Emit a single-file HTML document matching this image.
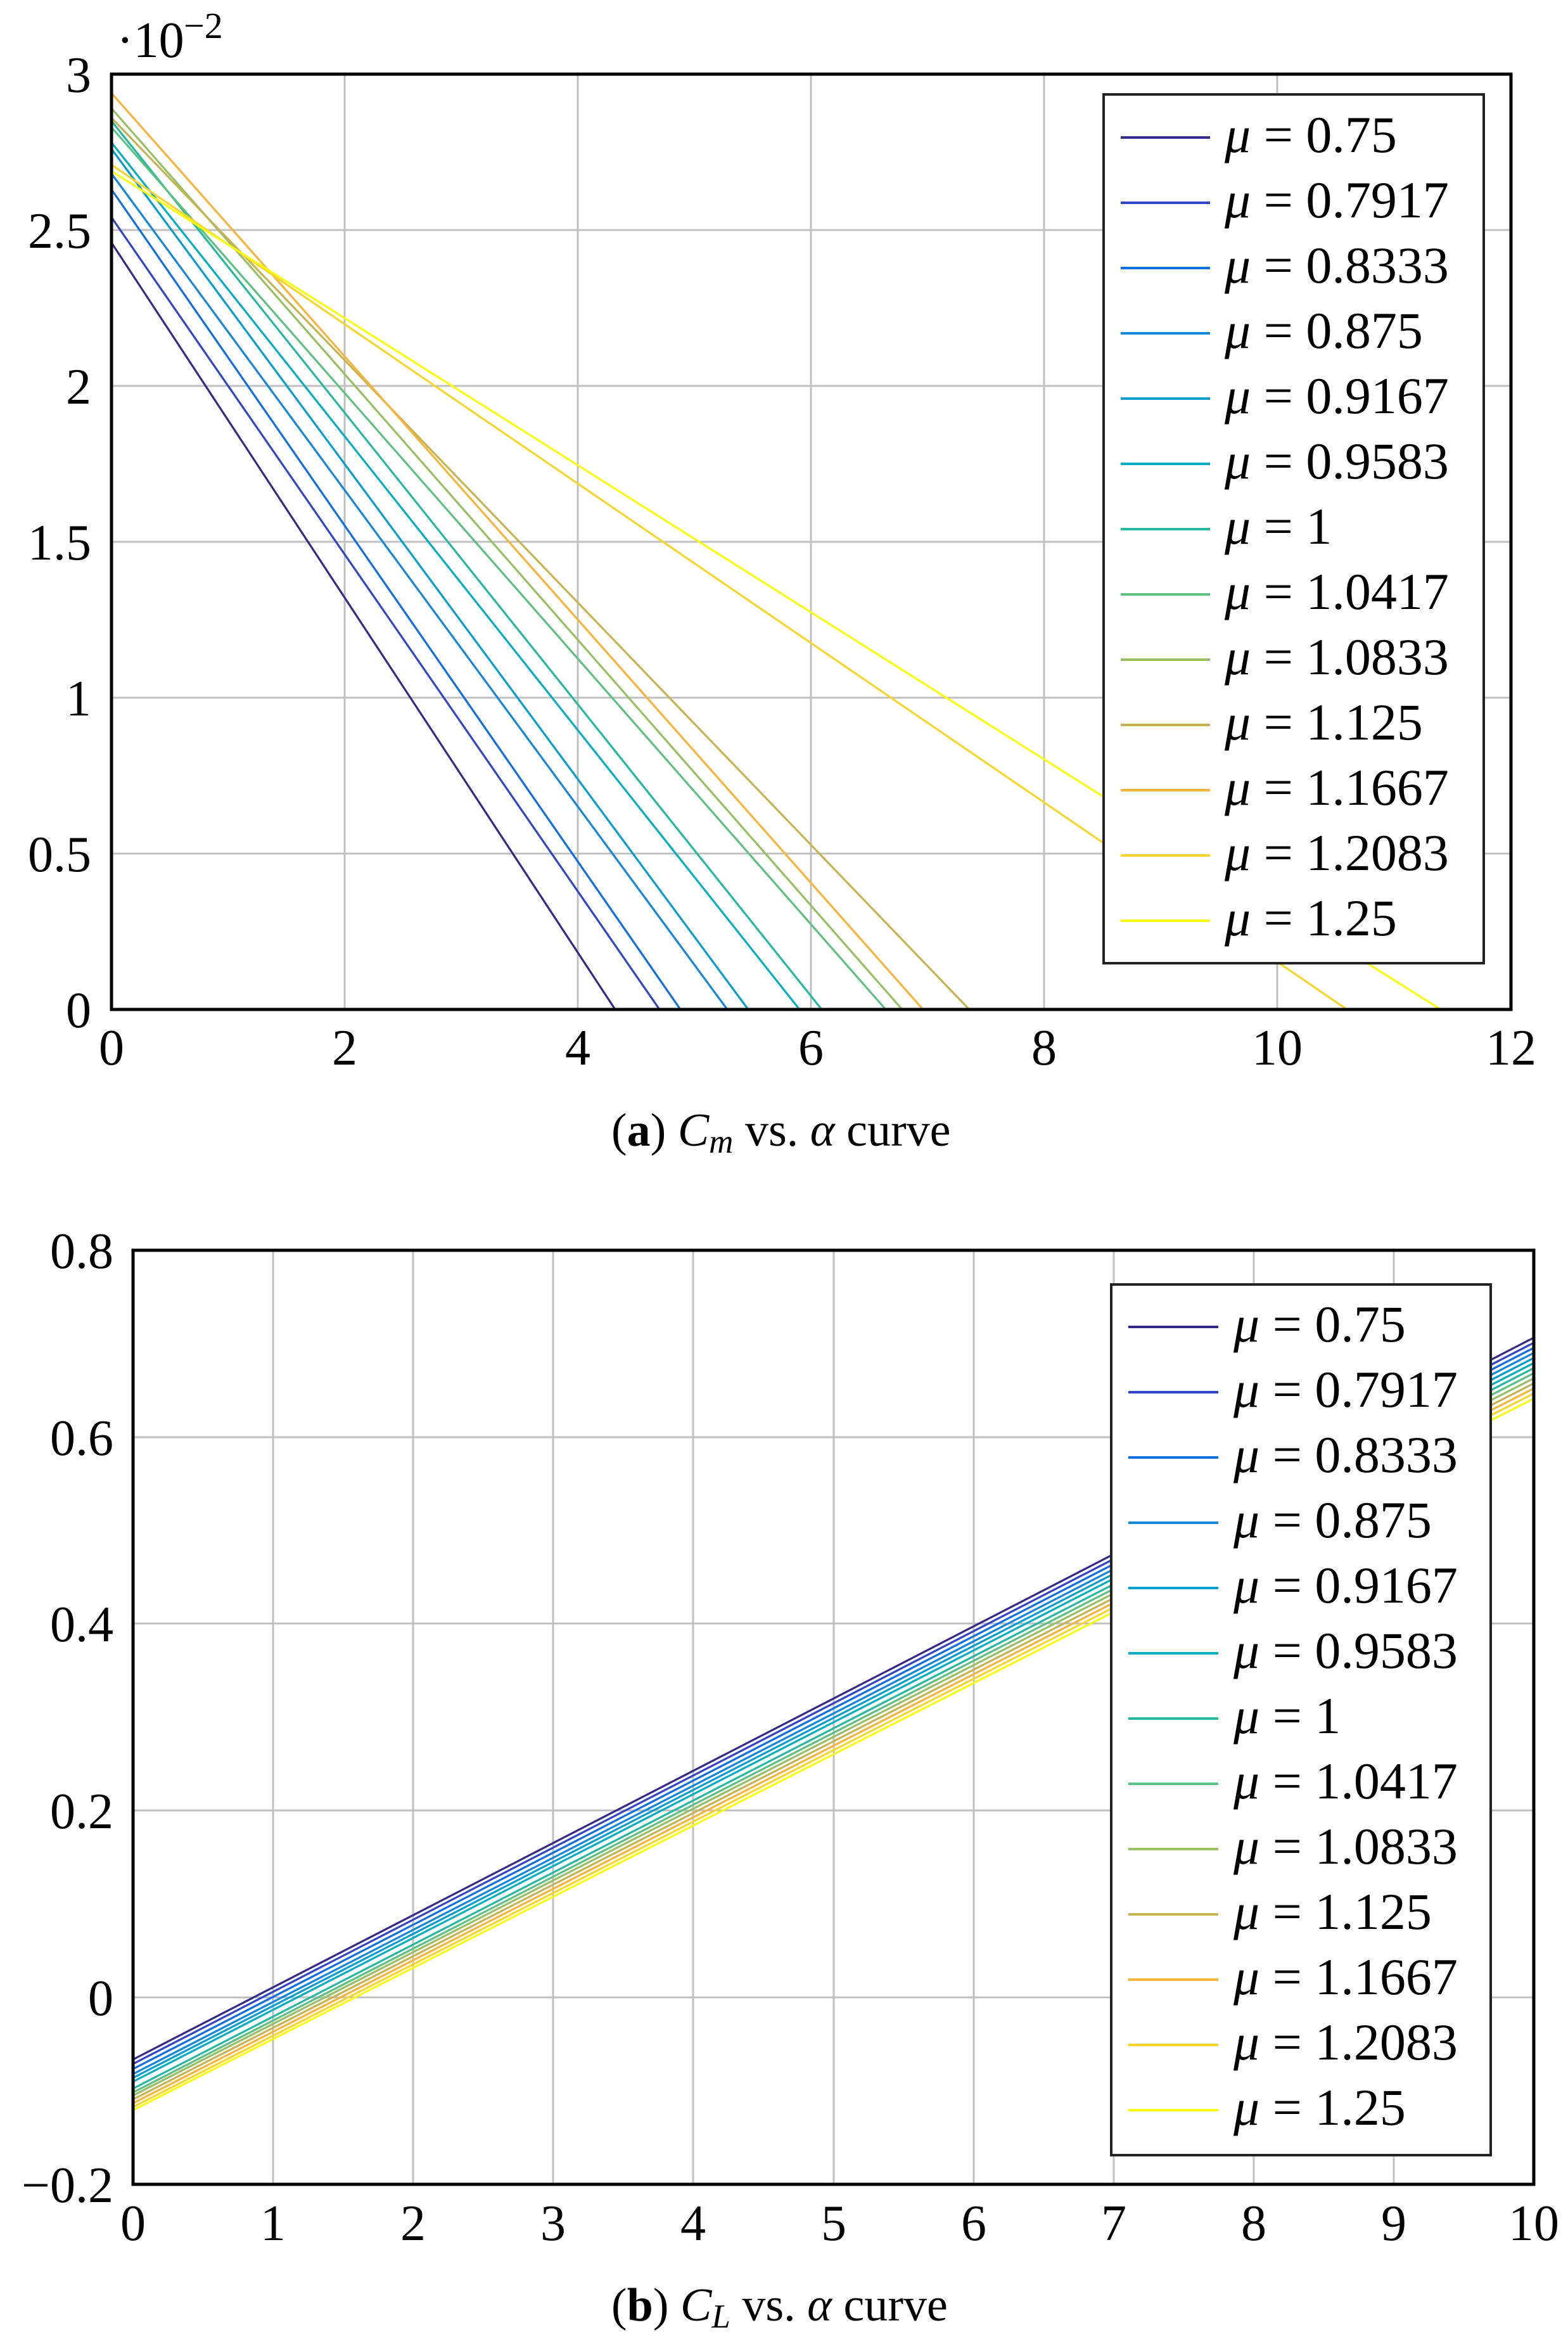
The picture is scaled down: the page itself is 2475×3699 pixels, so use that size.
<!DOCTYPE html>
<html><head><meta charset="utf-8"><style>html,body{margin:0;padding:0;background:#fff}svg{display:block}</style></head>
<body>
<svg xmlns="http://www.w3.org/2000/svg" width="2475" height="3699" viewBox="0 0 2475 3699" font-family="'Liberation Serif', serif">
<rect width="2475" height="3699" fill="#fff"/>
<!-- ===== Top plot ===== -->
<g stroke="#c0c0c0" stroke-width="3">
<line x1="544" y1="117" x2="544" y2="1593"/><line x1="912" y1="117" x2="912" y2="1593"/><line x1="1280" y1="117" x2="1280" y2="1593"/><line x1="1648" y1="117" x2="1648" y2="1593"/><line x1="2016" y1="117" x2="2016" y2="1593"/>
<line x1="176" y1="1347" x2="2385" y2="1347"/><line x1="176" y1="1101" x2="2385" y2="1101"/><line x1="176" y1="855" x2="2385" y2="855"/><line x1="176" y1="609" x2="2385" y2="609"/><line x1="176" y1="363" x2="2385" y2="363"/>
</g>
<g stroke-width="3.2" fill="none">
<line x1="176" y1="383" x2="971" y2="1593" stroke="#352a87"/>
<line x1="176" y1="343" x2="1041" y2="1593" stroke="#3145c6"/>
<line x1="176" y1="299" x2="1074" y2="1593" stroke="#0f6ee1"/>
<line x1="176" y1="274" x2="1148" y2="1593" stroke="#1387dc"/>
<line x1="176" y1="235" x2="1181" y2="1593" stroke="#079dcf"/>
<line x1="176" y1="225" x2="1262" y2="1593" stroke="#07aec1"/>
<line x1="176" y1="191" x2="1297" y2="1593" stroke="#26b8a1"/>
<line x1="176" y1="201" x2="1398" y2="1593" stroke="#5ec081"/>
<line x1="176" y1="171" x2="1424" y2="1593" stroke="#97bf63"/>
<line x1="176" y1="186" x2="1530" y2="1593" stroke="#c6b452"/>
<line x1="176" y1="147" x2="1457" y2="1593" stroke="#f8b33a"/>
<line x1="176" y1="260" x2="2126" y2="1593" stroke="#f7d52b"/>
<line x1="176" y1="270" x2="2274" y2="1593" stroke="#f9fb0e"/>
</g>
<rect x="176" y="117" width="2209" height="1476" fill="none" stroke="#000" stroke-width="5"/>
<g font-size="80" text-anchor="end">
<text x="144" y="1621">0</text><text x="144" y="1375">0.5</text><text x="144" y="1129">1</text><text x="144" y="883">1.5</text><text x="144" y="637">2</text><text x="144" y="391">2.5</text><text x="144" y="145">3</text>
</g>
<g font-size="80" text-anchor="middle">
<text x="176" y="1680">0</text><text x="544" y="1680">2</text><text x="912" y="1680">4</text><text x="1280" y="1680">6</text><text x="1648" y="1680">8</text><text x="2016" y="1680">10</text><text x="2385" y="1680">12</text>
</g>
<text x="184" y="90" font-size="80">·10</text><text x="290" y="60" font-size="58">−2</text>
<rect x="1742" y="149" width="600" height="1371" fill="#fff" stroke="#222" stroke-width="4"/>
<g stroke-width="4">
<line x1="1769" y1="217" x2="1910" y2="217" stroke="#352a87"/>
<line x1="1769" y1="320" x2="1910" y2="320" stroke="#3145c6"/>
<line x1="1769" y1="423" x2="1910" y2="423" stroke="#0f6ee1"/>
<line x1="1769" y1="526" x2="1910" y2="526" stroke="#1387dc"/>
<line x1="1769" y1="629" x2="1910" y2="629" stroke="#079dcf"/>
<line x1="1769" y1="732" x2="1910" y2="732" stroke="#07aec1"/>
<line x1="1769" y1="835" x2="1910" y2="835" stroke="#26b8a1"/>
<line x1="1769" y1="938" x2="1910" y2="938" stroke="#5ec081"/>
<line x1="1769" y1="1041" x2="1910" y2="1041" stroke="#97bf63"/>
<line x1="1769" y1="1144" x2="1910" y2="1144" stroke="#c6b452"/>
<line x1="1769" y1="1247" x2="1910" y2="1247" stroke="#f8b33a"/>
<line x1="1769" y1="1350" x2="1910" y2="1350" stroke="#f7d52b"/>
<line x1="1769" y1="1453" x2="1910" y2="1453" stroke="#f9fb0e"/>
</g>
<g font-size="82">
<text x="1933" y="240"><tspan font-style="italic">μ</tspan> = 0.75</text>
<text x="1933" y="343"><tspan font-style="italic">μ</tspan> = 0.7917</text>
<text x="1933" y="446"><tspan font-style="italic">μ</tspan> = 0.8333</text>
<text x="1933" y="549"><tspan font-style="italic">μ</tspan> = 0.875</text>
<text x="1933" y="652"><tspan font-style="italic">μ</tspan> = 0.9167</text>
<text x="1933" y="755"><tspan font-style="italic">μ</tspan> = 0.9583</text>
<text x="1933" y="858"><tspan font-style="italic">μ</tspan> = 1</text>
<text x="1933" y="961"><tspan font-style="italic">μ</tspan> = 1.0417</text>
<text x="1933" y="1064"><tspan font-style="italic">μ</tspan> = 1.0833</text>
<text x="1933" y="1167"><tspan font-style="italic">μ</tspan> = 1.125</text>
<text x="1933" y="1270"><tspan font-style="italic">μ</tspan> = 1.1667</text>
<text x="1933" y="1373"><tspan font-style="italic">μ</tspan> = 1.2083</text>
<text x="1933" y="1476"><tspan font-style="italic">μ</tspan> = 1.25</text>
</g>
<text x="965" y="1808" font-size="74">(<tspan font-weight="bold">a</tspan>) <tspan font-style="italic">C</tspan><tspan font-style="italic" font-size="53" dy="11">m</tspan><tspan dy="-11"> vs. </tspan><tspan font-style="italic">α</tspan> curve</text>

<!-- ===== Bottom plot ===== -->
<g stroke="#c0c0c0" stroke-width="3">
<line x1="431" y1="1973" x2="431" y2="3447"/><line x1="652" y1="1973" x2="652" y2="3447"/><line x1="873" y1="1973" x2="873" y2="3447"/><line x1="1094" y1="1973" x2="1094" y2="3447"/><line x1="1316" y1="1973" x2="1316" y2="3447"/><line x1="1537" y1="1973" x2="1537" y2="3447"/><line x1="1758" y1="1973" x2="1758" y2="3447"/><line x1="1979" y1="1973" x2="1979" y2="3447"/><line x1="2200" y1="1973" x2="2200" y2="3447"/>
<line x1="210" y1="2268" x2="2421" y2="2268"/><line x1="210" y1="2562" x2="2421" y2="2562"/><line x1="210" y1="2857" x2="2421" y2="2857"/><line x1="210" y1="3152" x2="2421" y2="3152"/>
</g>
<g stroke-width="3.2">
<line x1="210" y1="3250" x2="2421" y2="2111" stroke="#352a87"/>
<line x1="210" y1="3257" x2="2421" y2="2119" stroke="#3145c6"/>
<line x1="210" y1="3265" x2="2421" y2="2127" stroke="#0f6ee1"/>
<line x1="210" y1="3273" x2="2421" y2="2135" stroke="#1387dc"/>
<line x1="210" y1="3279" x2="2421" y2="2143" stroke="#079dcf"/>
<line x1="210" y1="3285" x2="2421" y2="2151" stroke="#07aec1"/>
<line x1="210" y1="3296" x2="2421" y2="2159" stroke="#26b8a1"/>
<line x1="210" y1="3302" x2="2421" y2="2167" stroke="#5ec081"/>
<line x1="210" y1="3307" x2="2421" y2="2175" stroke="#97bf63"/>
<line x1="210" y1="3313" x2="2421" y2="2183" stroke="#c6b452"/>
<line x1="210" y1="3319" x2="2421" y2="2191" stroke="#f8b33a"/>
<line x1="210" y1="3325" x2="2421" y2="2199" stroke="#f7d52b"/>
<line x1="210" y1="3330" x2="2421" y2="2207" stroke="#f9fb0e"/>
</g>
<rect x="210" y="1973" width="2211" height="1474" fill="none" stroke="#000" stroke-width="5"/>
<g font-size="80" text-anchor="end">
<text x="179" y="3475">−0.2</text><text x="179" y="3180">0</text><text x="179" y="2885">0.2</text><text x="179" y="2590">0.4</text><text x="179" y="2296">0.6</text><text x="179" y="2001">0.8</text>
</g>
<g font-size="80" text-anchor="middle">
<text x="210" y="3535">0</text><text x="431" y="3535">1</text><text x="652" y="3535">2</text><text x="873" y="3535">3</text><text x="1094" y="3535">4</text><text x="1316" y="3535">5</text><text x="1537" y="3535">6</text><text x="1758" y="3535">7</text><text x="1979" y="3535">8</text><text x="2200" y="3535">9</text><text x="2421" y="3535">10</text>
</g>
<rect x="1754" y="2027" width="599" height="1374" fill="#fff" stroke="#222" stroke-width="4"/>
<g stroke-width="4">
<line x1="1781" y1="2094" x2="1923" y2="2094" stroke="#352a87"/>
<line x1="1781" y1="2197" x2="1923" y2="2197" stroke="#3145c6"/>
<line x1="1781" y1="2300" x2="1923" y2="2300" stroke="#0f6ee1"/>
<line x1="1781" y1="2403" x2="1923" y2="2403" stroke="#1387dc"/>
<line x1="1781" y1="2506" x2="1923" y2="2506" stroke="#079dcf"/>
<line x1="1781" y1="2609" x2="1923" y2="2609" stroke="#07aec1"/>
<line x1="1781" y1="2712" x2="1923" y2="2712" stroke="#26b8a1"/>
<line x1="1781" y1="2815" x2="1923" y2="2815" stroke="#5ec081"/>
<line x1="1781" y1="2918" x2="1923" y2="2918" stroke="#97bf63"/>
<line x1="1781" y1="3021" x2="1923" y2="3021" stroke="#c6b452"/>
<line x1="1781" y1="3124" x2="1923" y2="3124" stroke="#f8b33a"/>
<line x1="1781" y1="3227" x2="1923" y2="3227" stroke="#f7d52b"/>
<line x1="1781" y1="3330" x2="1923" y2="3330" stroke="#f9fb0e"/>
</g>
<g font-size="82">
<text x="1947" y="2117"><tspan font-style="italic">μ</tspan> = 0.75</text>
<text x="1947" y="2220"><tspan font-style="italic">μ</tspan> = 0.7917</text>
<text x="1947" y="2323"><tspan font-style="italic">μ</tspan> = 0.8333</text>
<text x="1947" y="2426"><tspan font-style="italic">μ</tspan> = 0.875</text>
<text x="1947" y="2529"><tspan font-style="italic">μ</tspan> = 0.9167</text>
<text x="1947" y="2632"><tspan font-style="italic">μ</tspan> = 0.9583</text>
<text x="1947" y="2735"><tspan font-style="italic">μ</tspan> = 1</text>
<text x="1947" y="2838"><tspan font-style="italic">μ</tspan> = 1.0417</text>
<text x="1947" y="2941"><tspan font-style="italic">μ</tspan> = 1.0833</text>
<text x="1947" y="3044"><tspan font-style="italic">μ</tspan> = 1.125</text>
<text x="1947" y="3147"><tspan font-style="italic">μ</tspan> = 1.1667</text>
<text x="1947" y="3250"><tspan font-style="italic">μ</tspan> = 1.2083</text>
<text x="1947" y="3353"><tspan font-style="italic">μ</tspan> = 1.25</text>
</g>
<text x="965" y="3662" font-size="74">(<tspan font-weight="bold">b</tspan>) <tspan font-style="italic">C</tspan><tspan font-style="italic" font-size="53" dy="11">L</tspan><tspan dy="-11"> vs. </tspan><tspan font-style="italic">α</tspan> curve</text>
</svg>
</body></html>
